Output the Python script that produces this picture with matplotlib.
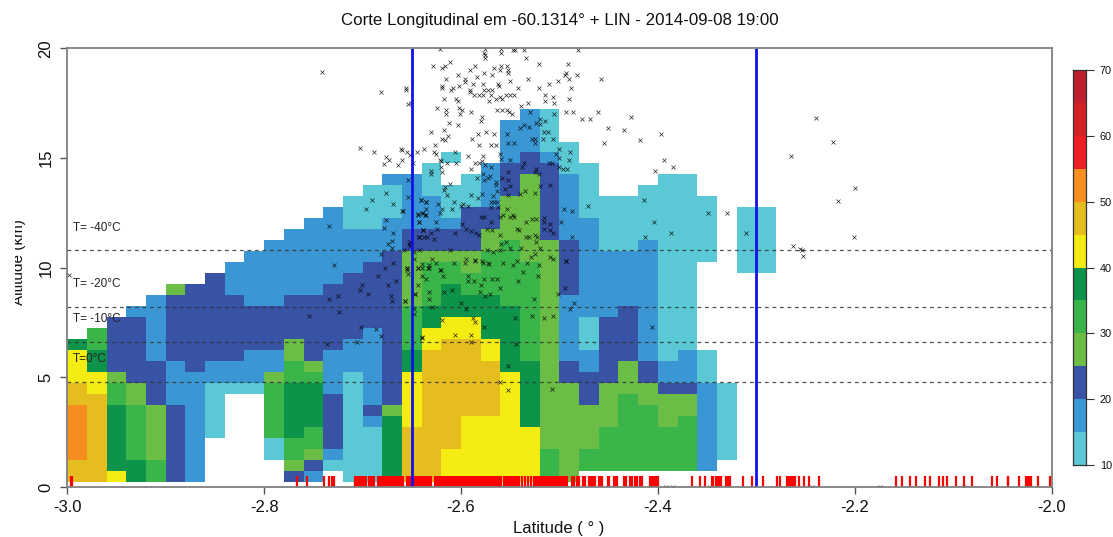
import numpy as np
import matplotlib
matplotlib.use('Agg')
import matplotlib.pyplot as plt
from matplotlib.colors import ListedColormap, BoundaryNorm
from matplotlib.transforms import Bbox

plt.rcParams['font.family'] = ['Liberation Sans', 'DejaVu Sans']

title = 'Corte Longitudinal em -60.1314° + LIN - 2014-09-08 19:00'
x_ticks = [-3.0, -2.8, -2.6, -2.4, -2.2, -2.0]
y_ticks = [0, 5, 10, 15, 20]
cbar_ticks = [10, 20, 30, 40, 50, 60, 70]
levels = [10, 15, 20, 25, 30, 35, 40, 45, 50, 55, 60, 65, 70]
colors = ['#5bc8d5', '#3a97d3', '#3852a4', '#6bbd45', '#3ab54a', '#0e934a',
          '#f4ec13', '#e6bd1e', '#f68e1f', '#ee1c25', '#d71f26', '#be1e2d']

# reflectivity classes, one letter per 5 dBZ
class_dbz = {'a': 12.5, 'b': 17.5, 'c': 22.5, 'd': 27.5, 'e': 32.5, 'f': 37.5,
             'g': 42.5, 'h': 47.5, 'i': 52.5, '.': np.nan}

# one entry per latitude column, runs from the lowest level upwards
lat_edges = [-3.0] + [round(-2.98 + 0.02 * i, 2) for i in range(50)]
alt_edges = [0.25 + 0.5 * i for i in range(35)]
columns = [
    'h2 i5 h2 g3 f1', 'h8 g2 f2 e2', 'g1 f6 e2 d1 c5', 'f2 e5 d2 c6 b1',
    'e2 d5 c4 b6', 'c7 b4 c6 d1', 'b10 c8', '.4 a5 b2 c8',
    '.8 a1 b2 c6 b3', '.8 a1 b3 c4 b5', '.2 a2 e5 d1 b2 c4 b6',
    'c1 d1 e2 f5 e2 d2 c4 b6', 'b1 c1 d1 e2 f4 e1 d1 c6 b7',
    '.1 a1 b1 c5 b4 c6 b7', 'a10 b3 c6 b4 a3', 'a5 b1 c1 b7 c6 b3 a4',
    'f6 d1 c14 b3 a3 b1', 'h5 g5 f2 e4 d5 c2 b5', 'h12 g2 f2 e4 d1 c2 b3 a3',
    'g3 h10 g2 f3 e2 d1 c2 b1 a3 .2 a1', 'g6 h7 g2 f2 e2 d2 c4 a3',
    'g6 h5 g2 f4 e4 d2 c2 b4', 'g10 f6 e6 d4 c3 b4', 'g5 f6 e9 d8 c2 b4',
    'e3 d19 c7 b1 a4', 'd9 c2 b6 c5 b6 a3', '.1 e2 d4 c3 b2 a3 b9 a5',
    '.1 e4 d4 c6 b6 a5', '.1 e7 d3 c5 b5 a5', '.1 e6 d2 c2 b11 a5',
    '.1 e4 d3 c1 b2 a17', '.1 e5 d2 c1 b3 a16', '.1 b8 a3 .8 a6',
    '.2 a7', '.19 a6', '.19 a6',
]

iso_alt = [10.8, 8.2, 6.6, 4.8]
iso_labels = ['T= -40°C', 'T= -20°C', 'T= -10°C', 'T=0°C']
iso_label_alt = [11.8, 9.25, 7.65, 5.85]
section_lat = [-2.65, -2.30]

# lightning sources, latitude and altitude
lin_points = [
    [-2.621, 19.98], [-2.576, 19.98], [-2.559, 19.98], [-2.547, 19.90], [-2.545, 19.90], [-2.536, 19.90],
    [-2.481, 19.90], [-2.577, 19.78], [-2.559, 19.78], [-2.576, 19.68], [-2.576, 19.57], [-2.534, 19.57],
    [-2.628, 19.21], [-2.616, 19.21], [-2.619, 19.08], [-2.611, 19.39], [-2.586, 19.21], [-2.566, 19.08],
    [-2.559, 19.21], [-2.553, 19.21], [-2.591, 19.0], [-2.552, 19.0], [-2.552, 18.89], [-2.577, 18.89],
    [-2.568, 18.8], [-2.560, 19.0], [-2.521, 19.3], [-2.491, 19.3], [-2.493, 18.89], [-2.494, 18.8],
    [-2.482, 18.8], [-2.603, 18.8], [-2.584, 18.69], [-2.615, 18.6], [-2.596, 18.6], [-2.596, 18.48],
    [-2.588, 18.39], [-2.578, 18.39], [-2.562, 18.39], [-2.55, 18.49], [-2.532, 18.6], [-2.511, 18.39],
    [-2.501, 18.49], [-2.49, 18.6], [-2.458, 18.6], [-2.619, 18.29], [-2.619, 18.19], [-2.602, 18.29],
    [-2.608, 18.19], [-2.610, 18.08], [-2.591, 18.08], [-2.577, 18.08], [-2.573, 18.08], [-2.568, 18.08],
    [-2.561, 18.29], [-2.542, 18.19], [-2.521, 18.19], [-2.488, 18.19], [-2.656, 18.08], [-2.651, 17.5],
    [-2.617, 17.69], [-2.605, 17.69], [-2.603, 17.58], [-2.591, 17.99], [-2.587, 17.88], [-2.582, 17.88],
    [-2.578, 17.88], [-2.569, 17.88], [-2.554, 17.88], [-2.55, 17.88], [-2.546, 17.88], [-2.515, 17.88],
    [-2.507, 17.78], [-2.564, 17.69], [-2.56, 17.78], [-2.558, 17.69], [-2.572, 17.58], [-2.515, 17.58],
    [-2.49, 17.69], [-2.532, 17.5], [-2.539, 17.38], [-2.505, 17.49], [-2.624, 17.29], [-2.602, 17.29],
    [-2.615, 17.19], [-2.599, 17.19], [-2.59, 17.09], [-2.563, 17.19], [-2.558, 17.19], [-2.553, 17.19],
    [-2.551, 17.09], [-2.615, 16.99], [-2.601, 16.99], [-2.548, 16.99], [-2.579, 16.88], [-2.58, 16.68],
    [-2.53, 17.09], [-2.505, 16.99], [-2.493, 17.09], [-2.486, 17.09], [-2.461, 17.09], [-2.477, 16.77],
    [-2.469, 16.77], [-2.427, 16.88], [-2.612, 16.58], [-2.603, 16.49], [-2.451, 16.38], [-2.617, 16.29],
    [-2.63, 16.18], [-2.575, 16.18], [-2.583, 16.08], [-2.566, 16.08], [-2.434, 16.29], [-2.397, 16.08],
    [-2.589, 15.88], [-2.613, 15.99], [-2.619, 15.88], [-2.616, 15.8], [-2.418, 15.8], [-2.455, 15.68],
    [-2.626, 15.59], [-2.638, 15.39], [-2.582, 15.59], [-2.569, 15.59], [-2.564, 15.59], [-2.606, 15.29],
    [-2.627, 15.29], [-2.655, 15.29], [-2.661, 15.39], [-2.625, 15.17], [-2.593, 15.07], [-2.578, 15.07],
    [-2.56, 15.2], [-2.559, 14.97], [-2.62, 14.86], [-2.66, 14.89], [-2.649, 14.79], [-2.621, 14.89],
    [-2.614, 14.79], [-2.605, 14.79], [-2.586, 14.79], [-2.582, 14.79], [-2.579, 14.86], [-2.394, 14.89],
    [-2.265, 15.09], [-2.49, 14.89], [-2.5, 15.01], [-2.503, 15.2], [-2.489, 15.29], [-2.5, 15.39],
    [-2.52, 16.79], [-2.515, 16.68], [-2.524, 16.59], [-2.52, 16.53], [-2.54, 16.38], [-2.536, 16.49],
    [-2.531, 16.41], [-2.516, 16.18], [-2.512, 16.18], [-2.506, 15.88], [-2.517, 15.88], [-2.528, 15.88],
    [-2.525, 15.88], [-2.525, 15.68], [-2.552, 15.68], [-2.546, 15.68], [-2.553, 16.08], [-2.5, 14.59],
    [-2.496, 14.51], [-2.492, 14.48], [-2.511, 14.79], [-2.508, 14.79], [-2.538, 14.59], [-2.536, 14.79],
    [-2.55, 14.89], [-2.57, 14.59], [-2.576, 14.68], [-2.59, 14.48], [-2.578, 14.28], [-2.552, 14.38],
    [-2.571, 14.16], [-2.573, 14.09], [-2.577, 13.98], [-2.584, 14.09], [-2.524, 14.48], [-2.525, 14.36],
    [-2.521, 14.28], [-2.558, 14.1], [-2.552, 13.98], [-2.51, 13.78], [-2.55, 13.71], [-2.555, 13.6],
    [-2.564, 13.9], [-2.564, 13.75], [-2.616, 13.68], [-2.611, 13.83], [-2.617, 13.53], [-2.614, 13.3],
    [-2.59, 13.3], [-2.583, 13.19], [-2.579, 13.37], [-2.563, 13.49], [-2.567, 13.28], [-2.57, 12.99],
    [-2.566, 12.99], [-2.563, 12.99], [-2.54, 13.34], [-2.535, 13.49], [-2.525, 13.39], [-2.52, 13.71],
    [-2.552, 13.3], [-2.471, 12.8], [-2.495, 12.69], [-2.487, 12.58], [-2.498, 12.08], [-2.414, 13.08],
    [-2.404, 12.08], [-2.387, 11.6], [-2.413, 11.4], [-2.349, 12.49], [-2.33, 12.49], [-2.31, 11.6],
    [-2.263, 10.99], [-2.403, 14.39], [-2.385, 14.59], [-2.63, 14.41], [-2.63, 14.28], [-2.62, 14.59],
    [-2.619, 14.36], [-2.654, 13.98], [-2.641, 13.07], [-2.636, 12.99], [-2.636, 12.69], [-2.623, 12.89],
    [-2.619, 12.69], [-2.621, 12.49], [-2.66, 12.58], [-2.644, 12.4], [-2.639, 12.49], [-2.637, 12.4],
    [-2.607, 12.99], [-2.6, 12.8], [-2.598, 12.89], [-2.593, 12.8], [-2.609, 12.69], [-2.57, 12.77],
    [-2.562, 12.77], [-2.547, 12.39], [-2.553, 12.69], [-2.557, 12.39], [-2.55, 12.31], [-2.546, 12.31],
    [-2.534, 12.08], [-2.528, 12.2], [-2.524, 12.2], [-2.643, 12.08], [-2.625, 12.08], [-2.599, 12.0],
    [-2.58, 12.31], [-2.577, 12.31], [-2.57, 12.08], [-2.56, 12.31], [-2.574, 11.78], [-2.516, 12.26],
    [-2.516, 12.08], [-2.51, 12.0], [-2.516, 11.78], [-2.51, 11.73], [-2.507, 11.6], [-2.543, 11.78],
    [-2.541, 11.7], [-2.534, 11.4], [-2.531, 11.4], [-2.525, 11.47], [-2.523, 11.4], [-2.639, 11.7],
    [-2.63, 11.6], [-2.624, 11.78], [-2.606, 11.6], [-2.595, 11.78], [-2.59, 11.67], [-2.585, 11.6],
    [-2.582, 11.49], [-2.568, 11.7], [-2.56, 11.49], [-2.643, 11.4], [-2.638, 11.4], [-2.627, 11.29],
    [-2.652, 11.17], [-2.652, 10.99], [-2.487, 11.4], [-2.554, 11.18], [-2.559, 11.09], [-2.55, 10.9],
    [-2.539, 10.9], [-2.524, 11.18], [-2.52, 10.9], [-2.658, 10.79], [-2.648, 10.72], [-2.643, 10.79],
    [-2.611, 10.79], [-2.574, 10.79], [-2.567, 10.72], [-2.56, 10.79], [-2.493, 10.31], [-2.525, 10.61],
    [-2.529, 10.49], [-2.51, 10.49], [-2.507, 10.4], [-2.629, 10.41], [-2.648, 10.41], [-2.595, 10.41],
    [-2.586, 10.34], [-2.579, 10.31], [-2.572, 10.18], [-2.557, 10.21], [-2.543, 10.31], [-2.547, 10.11],
    [-2.533, 10.21], [-2.521, 10.11], [-2.64, 10.18], [-2.632, 10.11], [-2.644, 10.0], [-2.633, 10.0],
    [-2.655, 10.0], [-2.621, 9.91], [-2.655, 9.99], [-2.64, 9.99], [-2.644, 9.99], [-2.634, 9.99],
    [-2.625, 10.19], [-2.607, 10.19], [-2.596, 10.19], [-2.586, 10.29], [-2.578, 10.19], [-2.573, 10.19],
    [-2.62, 9.88], [-2.654, 9.73], [-2.64, 9.61], [-2.636, 9.5], [-2.618, 9.61], [-2.593, 9.61],
    [-2.577, 9.5], [-2.568, 9.5], [-2.563, 9.5], [-2.593, 9.4], [-2.587, 9.4], [-2.542, 9.4],
    [-2.537, 9.79], [-2.522, 9.61], [-2.58, 9.2], [-2.56, 9.09], [-2.644, 9.2], [-2.609, 9.0],
    [-2.617, 8.9], [-2.632, 8.9], [-2.647, 8.82], [-2.581, 8.9], [-2.571, 8.79], [-2.576, 8.7],
    [-2.632, 8.59], [-2.657, 8.49], [-2.6, 8.4], [-2.526, 8.59], [-2.501, 8.82], [-2.494, 9.09],
    [-2.493, 10.29], [-2.485, 8.4], [-2.489, 8.11], [-2.648, 8.11], [-2.629, 8.21], [-2.595, 8.11],
    [-2.528, 7.79], [-2.516, 7.7], [-2.507, 7.79], [-2.545, 7.7], [-2.619, 7.61], [-2.588, 7.7],
    [-2.586, 7.5], [-2.577, 7.3], [-2.64, 6.8], [-2.606, 6.91], [-2.59, 6.91], [-2.59, 6.62],
    [-2.544, 6.5], [-2.552, 5.51], [-2.56, 4.8], [-2.552, 4.4], [-2.508, 4.49], [-2.406, 7.3],
    [-2.676, 13.41], [-2.69, 13.1], [-2.669, 12.89], [-2.696, 12.69], [-2.659, 12.59], [-2.654, 13.2],
    [-2.641, 13.1], [-2.636, 13.0], [-2.644, 12.44], [-2.64, 12.5], [-2.636, 12.39], [-2.676, 12.19],
    [-2.643, 12.09], [-2.678, 11.8], [-2.669, 11.6], [-2.639, 11.71], [-2.643, 11.4], [-2.635, 11.4],
    [-2.734, 11.89], [-2.67, 11.2], [-2.674, 11.1], [-2.653, 11.1], [-2.67, 10.9], [-2.681, 10.6],
    [-2.669, 10.19], [-2.677, 9.99], [-2.655, 9.9], [-2.729, 10.1], [-2.684, 9.61], [-2.701, 9.2],
    [-2.703, 9.0], [-2.694, 8.81], [-2.666, 9.4], [-2.674, 9.2], [-2.671, 8.7], [-2.725, 8.7],
    [-2.734, 8.59], [-2.67, 8.49], [-2.657, 8.49], [-2.647, 8.81], [-2.724, 8.0], [-2.754, 7.8],
    [-2.702, 7.3], [-2.686, 7.2], [-2.681, 6.89], [-2.736, 6.5], [-2.706, 6.6], [-2.648, 7.9],
    [-2.64, 6.85], [-2.998, 9.66], [-2.741, 18.91], [-2.681, 18.0], [-2.656, 18.18], [-2.654, 17.45],
    [-2.703, 15.44], [-2.688, 15.26], [-2.673, 14.9], [-2.66, 15.35], [-2.652, 15.13], [-2.664, 14.67],
    [-2.678, 14.72], [-2.676, 15.03], [-2.645, 15.26], [-2.239, 16.81], [-2.222, 15.72], [-2.2, 13.62],
    [-2.217, 13.03], [-2.201, 11.39], [-2.254, 10.8], [-2.252, 10.52], [-2.256, 10.84],
    [-2.392, 0.02], [-2.385, 0.02], [-2.347, 0.02], [-2.243, 0.02], [-2.174, 0.02], [-2.089, 0.02],
]

# lightning at ground level, latitude of each strike
ground_lat = [
    -2.996, -2.995, -2.7665, -2.7567, -2.739, -2.7337, -2.7315, -2.7295,
    -2.708, -2.7065, -2.705, -2.7035, -2.702, -2.7005, -2.699, -2.6975, -2.696,
    -2.693, -2.6915, -2.69, -2.688, -2.684, -2.682, -2.681, -2.679, -2.677, -2.6755,
    -2.673, -2.671, -2.67, -2.668, -2.6665, -2.665, -2.663, -2.6605, -2.6585,
    -2.655, -2.653, -2.651, -2.649, -2.647, -2.645, -2.6435, -2.642, -2.64, -2.638,
    -2.636, -2.634, -2.632, -2.63, -2.626, -2.6245, -2.623, -2.621, -2.6195, -2.618,
    -2.616, -2.614, -2.612, -2.6105, -2.609, -2.6075, -2.606, -2.6045, -2.603, -2.6015,
    -2.60, -2.5985, -2.597, -2.5955, -2.594, -2.5925, -2.591, -2.5895, -2.588, -2.5865,
    -2.585, -2.5835, -2.582, -2.58, -2.578, -2.5765, -2.575, -2.5735, -2.572, -2.5705,
    -2.569, -2.567, -2.565, -2.563, -2.561, -2.559, -2.5565, -2.5545, -2.5525, -2.5505,
    -2.549, -2.5475, -2.546, -2.5445, -2.543, -2.5415, -2.538, -2.535, -2.532, -2.529,
    -2.5255, -2.524, -2.5225, -2.521, -2.5195, -2.518, -2.5165, -2.515, -2.5135, -2.512,
    -2.5105, -2.509, -2.5075, -2.506, -2.5045, -2.503, -2.5015, -2.50, -2.4985, -2.497,
    -2.4955, -2.494, -2.4925, -2.487, -2.485, -2.482, -2.48, -2.476, -2.474, -2.47,
    -2.468, -2.466, -2.464, -2.46, -2.458, -2.457, -2.451, -2.45, -2.445, -2.443,
    -2.441, -2.434, -2.432, -2.428, -2.426, -2.423, -2.421, -2.418, -2.416, -2.408,
    -2.406, -2.404, -2.402, -2.40,
    -2.3655, -2.357, -2.352, -2.345, -2.3435, -2.341, -2.339, -2.3374, -2.3357, -2.331,
    -2.329, -2.327, -2.3137, -2.3045, -2.2934, -2.2791, -2.2757, -2.269, -2.2663, -2.265,
    -2.2636, -2.2622, -2.2605, -2.2561, -2.2514, -2.246, -2.2361, -2.158, -2.1514, -2.1436,
    -2.1379, -2.1284, -2.1233, -2.1138, -2.1104, -2.1057, -2.0969, -2.0888, -2.081, -2.0606,
    -2.0556, -2.0447, -2.0437, -2.0329, -2.0258, -2.0241, -2.0224, -2.021, -2.0133, -2.0014,
]

# build the grid from the runs
dbz = np.full((len(alt_edges) - 1, len(lat_edges) - 1), np.nan)
for i, col in enumerate(columns):
    r = 0
    for run in col.split():
        n = int(run[1:])
        dbz[r:r + n, i] = class_dbz[run[0]]
        r += n

W, H = 1113, 537
fig = plt.figure(figsize=(W / 100, H / 100), dpi=100)
ax = fig.add_axes([67.3 / W, 1 - 487 / H, (1051.5 - 67.3) / W, (487 - 48.3) / H])

cmap = ListedColormap(colors)
norm = BoundaryNorm(levels, cmap.N)
ax.pcolormesh(lat_edges, alt_edges, dbz, cmap=cmap, norm=norm)

ax.hlines(iso_alt, -3.0, -2.0, colors='#333333', linewidth=0.9, linestyles=(0, (3, 3)), alpha=0.85)
for lab, a in zip(iso_labels, iso_label_alt):
    ax.text(-2.9945, a, lab, fontsize=8.5, color='#222222', va='center', ha='left')

pts = np.array(lin_points)
ax.plot(pts[:, 0], pts[:, 1], 'x', color='black', ms=2.4, mew=0.5, alpha=0.85, zorder=4)
ax.vlines(ground_lat, 0, 0.5, colors='#ff0000', linewidth=1.6, zorder=5)
ax.vlines(section_lat, 0, 20, colors='#1010ee', linewidth=2, zorder=6)

ax.set_xlim(-3.0, -2.0)
ax.set_ylim(0, 20)
ax.set_xticks(x_ticks)
ax.set_xticklabels(['%.1f' % v for v in x_ticks])
ax.set_yticks(y_ticks)
ax.tick_params(axis='x', length=5, width=1, color='#555555', labelsize=12, pad=4, labelcolor='#111111')
ax.tick_params(axis='y', length=5, width=1, color='#555555', labelsize=12, pad=5, labelcolor='#111111')
for t in ax.get_yticklabels():
    t.set_rotation(90)
    t.set_va('center')
for s in ax.spines.values():
    s.set_color('#808080')
    s.set_linewidth(1.3)
    s.set_zorder(7)

fig.text(559.5 / W, 1 - 21 / H, title, fontsize=12.2, ha='center', va='center', color='#111111')
fig.text(559 / W, 1 - 528 / H, 'Latitude ( ° )', fontsize=12, ha='center', va='center', color='#111111')
# the y label is cut by the left margin in the original
yl = fig.text(23 / W, 1 - 262 / H, 'Altitude (km)', fontsize=11, rotation=90,
              ha='center', va='baseline', rotation_mode='anchor', color='#111111')
yl.set_clip_box(Bbox([[14.5, 0], [W, H]]))
yl.set_clip_on(True)

cax = fig.add_axes([1073 / W, 1 - 465 / H, 13 / W, 395 / H])
cax.pcolormesh([0, 1], levels, np.array(levels[:-1]).reshape(-1, 1) + 2.5, cmap=cmap, norm=norm)
cax.set_xticks([])
cax.yaxis.tick_right()
cax.set_yticks(cbar_ticks)
cax.tick_params(axis='y', length=6, width=0.8, color='#333333', labelsize=7.8, pad=4, labelcolor='#111111')
for s in cax.spines.values():
    s.set_color('#333333')
    s.set_linewidth(0.9)

fig.savefig('out.png', dpi=100)
